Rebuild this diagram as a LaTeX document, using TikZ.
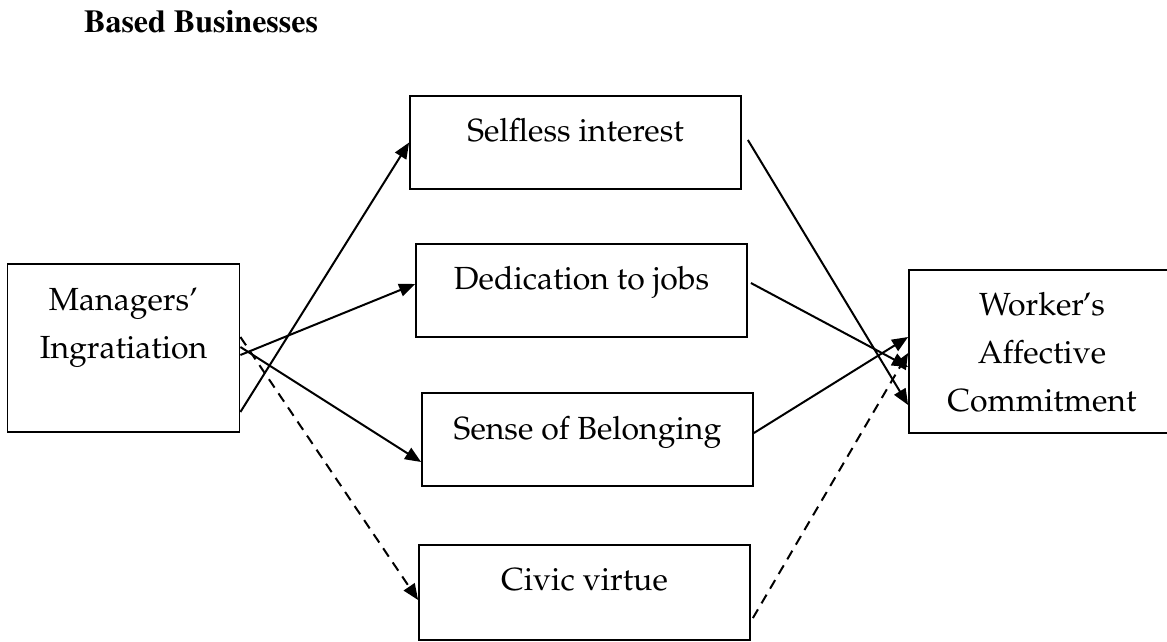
\documentclass[tikz,border=0pt]{standalone}
\usepackage[T1]{fontenc}
\renewcommand{\rmdefault}{ppl}
\usetikzlibrary{arrows.meta}
\begin{document}
\begin{tikzpicture}[x=1pt,y=-1pt,
  box/.style={draw, line width=1.8pt, inner sep=0pt, minimum width=331pt, minimum height=93pt},
  lbl/.style={font=\fontsize{32}{48}\selectfont, align=center, inner sep=0pt},
  link/.style={line width=2pt, -{Triangle[length=16pt,width=13pt]}},
  dlink/.style={link, dash pattern=on 10pt off 7pt},
]
\path[use as bounding box, clip] (0,0) rectangle (1167,641);

% heading
\node[inner sep=0pt, anchor=base west, font=\fontfamily{ptm}\fontseries{b}\fontsize{32}{38}\selectfont]
  (head) at (84,32) {Based Businesses};

% boxes
\node[box, minimum width=232pt, minimum height=168pt] (mgr) at (123.5,348) {};
\node[box] (self) at (575.5,142.5) {};
\node[box] (ded) at (581.5,290.5) {};
\node[box] (sen) at (587.5,439.5) {};
\node[box, minimum height=95pt] (civ) at (584.5,592.5) {};
\node[box, minimum width=266pt, minimum height=163pt] (wrk) at (1042,351.5) {};

% box texts
\node[lbl] (mgrT) at (123.5,327.5) {Managers'\\Ingratiation};
\node[lbl, anchor=base] (selfT) at (575.5,141) {Selfless interest};
\node[lbl, anchor=base] (dedT) at (581.5,289) {Dedication to jobs};
\node[lbl, anchor=base] (senT) at (587.5,439) {Sense of Belonging};
\node[lbl, anchor=base] (civT) at (584.5,590) {Civic virtue};
\node[lbl] (wrkT) at (1042,352.3) {Worker\kern-1.5pt's\\Affective\\Commitment};

% paths from the manager box
\draw[link] ([yshift=-64pt]mgr.east) -- (self.west);
\draw[link] ([yshift=-7pt]mgr.east) -- ([yshift=6.5pt]ded.west);
\draw[link] ([yshift=1pt]mgr.east) -- ([yshift=-22.5pt]sen.west);
\draw[dlink] ([yshift=11pt]mgr.east) -- ([yshift=-7.5pt]civ.west);

% paths into the worker box
\draw[link] ([xshift=6pt,yshift=2.5pt]self.east) -- ([yshift=-53.5pt]wrk.west);
\draw[link] ([xshift=3pt,yshift=7.5pt]ded.east) -- ([yshift=-15.5pt]wrk.west);
\draw[link] ([yshift=6.5pt]sen.east) -- ([yshift=14.5pt]wrk.west);
\draw[dlink] ([xshift=2pt,yshift=-25.5pt]civ.east) -- ([yshift=-1.5pt]wrk.west);
\end{tikzpicture}
\end{document}
